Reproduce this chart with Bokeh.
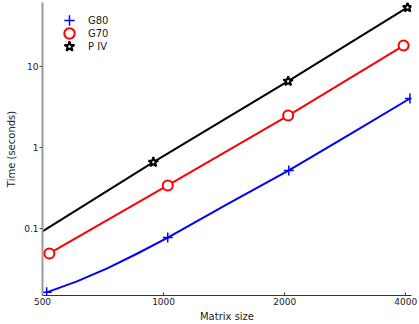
from bokeh.plotting import figure
from bokeh.models import FixedTicker, Legend, LegendItem, Range1d
from bokeh.embed import file_html
from bokeh.resources import INLINE

# ---- data ----
g80_x = [512, 609, 724, 861, 1024, 1448, 2048, 2896, 4096]
g80_y = [0.0164, 0.0224, 0.0325, 0.0495, 0.078, 0.204, 0.525, 1.45, 4.06]
g80_mx = [512, 1024, 2048, 4096]
g80_my = [0.0164, 0.078, 0.525, 4.06]

g70_x = [520, 1024, 2040, 3950]
g70_y = [0.0496, 0.343, 2.5, 18.3]

piv_x = [500, 943, 2040, 4040]
piv_y = [0.0926, 0.664, 6.64, 54.0]
piv_mx = [943, 2040, 4040]
piv_my = [0.664, 6.64, 54.0]

x_ticks = [500, 1000, 2000, 4000]
y_ticks = [0.1, 1, 10]

FONT = "DejaVu Sans"
TXT = "#222222"

p = figure(width=419, height=324, x_axis_type="log", y_axis_type="log",
           x_range=Range1d(500, 4133), y_range=Range1d(0.015, 62.2),
           output_backend="svg", toolbar_location=None,
           min_border_left=42, min_border_right=8, min_border_top=2,
           min_border_bottom=28)
p.outline_line_color = None
p.xgrid.visible = False
p.ygrid.visible = False
p.background_fill_color = "white"

# lines
p.line(g80_x, g80_y, line_color="#0000ff", line_width=2)
p.line(g70_x, g70_y, line_color="#ff0000", line_width=2)
p.line(piv_x, piv_y, line_color="black", line_width=2)

# markers
r80 = p.scatter(g80_mx, g80_my, marker="cross", size=10, line_color="#0000ff", line_width=1.5)
r70 = p.scatter(g70_x, g70_y, marker="circle", size=10, line_color="#ff0000", fill_color="white", line_width=2)
rpiv = p.scatter(piv_mx, piv_my, marker="star", size=10, line_color="black", fill_color="white", line_width=2)

# legend: one small legend per entry so that the pitch is 13px
frame_bottom = 324 - 29
for i, (lab, r) in enumerate([("G80", r80), ("G70", r70), ("P IV", rpiv)]):
    center_y = 20 + 13 * i
    lg = Legend(items=[LegendItem(label=lab, renderers=[r])],
                location=(14, frame_bottom - (center_y + 13)),
                margin=0, padding=0, spacing=0,
                glyph_width=26, glyph_height=26, label_height=26,
                label_standoff=6, label_text_font=FONT, label_text_font_size="10px",
                label_text_color=TXT, border_line_color=None,
                background_fill_alpha=0)
    p.add_layout(lg)

# axes
xa = p.xaxis[0]
xa.ticker = FixedTicker(ticks=x_ticks, minor_ticks=[])
xa.major_label_overrides = {t: str(t) for t in x_ticks}
xa.major_tick_in = 3
xa.major_tick_out = 0
xa.minor_tick_line_color = None
xa.axis_line_color = "#333333"
xa.major_tick_line_color = "#333333"
xa.major_label_standoff = 2
xa.axis_label = "Matrix size"
xa.axis_label_standoff = 3

ya = p.yaxis[0]
ya.ticker = FixedTicker(ticks=y_ticks, minor_ticks=[])
ya.major_label_overrides = {0.1: "0.1", 1: "1", 10: "10"}
ya.major_tick_in = 0
ya.major_tick_out = 3
ya.minor_tick_line_color = None
ya.axis_line_color = "#999999"
ya.axis_line_width = 2
ya.major_tick_line_color = "#555555"
ya.major_label_standoff = 1
ya.axis_label = "Time (seconds)"
ya.axis_label_standoff = 4

for ax in (xa, ya):
    ax.major_label_text_font = FONT
    ax.major_label_text_font_size = "9px"
    ax.major_label_text_color = TXT
    ax.axis_label_text_font = FONT
    ax.axis_label_text_font_size = "10px"
    ax.axis_label_text_font_style = "normal"
    ax.axis_label_text_color = TXT

open("out.html", "w").write(file_html(p, INLINE))
